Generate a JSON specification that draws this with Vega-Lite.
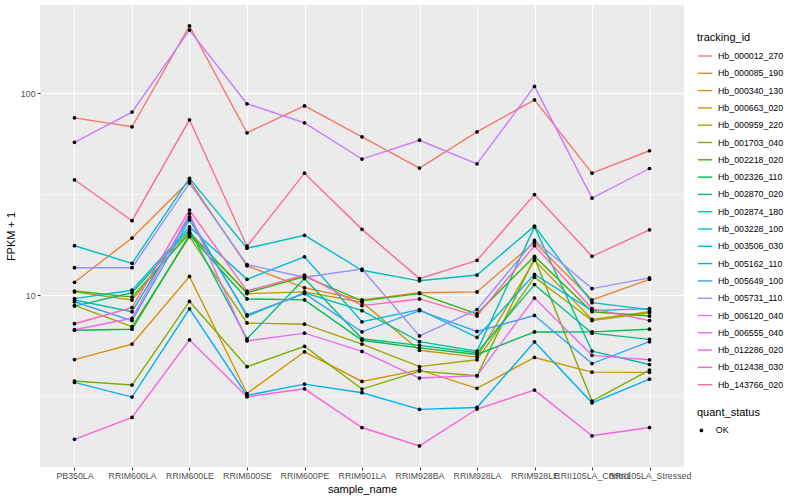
{
"$schema": "https://vega.github.io/schema/vega-lite/v6.json",
"width": 644, "height": 462,
"autosize": {"type": "none"},
"padding": {"left": 40, "top": 5, "right": 116, "bottom": 33},
"background": "white",
"config": {
  "view": {"fill": "#EBEBEB", "stroke": null},
  "font": "Liberation Sans",
  "axis": {"domain": false, "gridColor": "#FFFFFF", "tickColor": "#333333", "tickSize": 2.75, "tickWidth": 1.07,
    "labelColor": "#4D4D4D", "labelFontSize": 8.8, "labelFont": "Liberation Sans", "titleFont": "Liberation Sans",
    "titleFontSize": 11, "titleFontWeight": "normal", "titleColor": "#000000", "labelPadding": 2.2},
  "legend": {"titleFont": "Liberation Sans", "labelFont": "Liberation Sans", "titleFontSize": 11, "titleFontWeight": "normal",
    "labelFontSize": 8.8, "labelColor": "#000000", "titleColor": "#000000", "padding": 0}
},
"data": {"values": [
{"sample_name":"PB350LA","tracking_id":"Hb_000012_270","fpkm":75.5,"quant_status":"OK"},
{"sample_name":"RRIM600LA","tracking_id":"Hb_000012_270","fpkm":68.2,"quant_status":"OK"},
{"sample_name":"RRIM600LE","tracking_id":"Hb_000012_270","fpkm":215,"quant_status":"OK"},
{"sample_name":"RRIM600SE","tracking_id":"Hb_000012_270","fpkm":63.7,"quant_status":"OK"},
{"sample_name":"RRIM600PE","tracking_id":"Hb_000012_270","fpkm":86.5,"quant_status":"OK"},
{"sample_name":"RRIM901LA","tracking_id":"Hb_000012_270","fpkm":60.8,"quant_status":"OK"},
{"sample_name":"RRIM928BA","tracking_id":"Hb_000012_270","fpkm":42.6,"quant_status":"OK"},
{"sample_name":"RRIM928LA","tracking_id":"Hb_000012_270","fpkm":64.4,"quant_status":"OK"},
{"sample_name":"RRIM928LE","tracking_id":"Hb_000012_270","fpkm":92.6,"quant_status":"OK"},
{"sample_name":"RRII105LA_Control","tracking_id":"Hb_000012_270","fpkm":40.2,"quant_status":"OK"},
{"sample_name":"RRII105LA_Stressed","tracking_id":"Hb_000012_270","fpkm":51.9,"quant_status":"OK"},
{"sample_name":"PB350LA","tracking_id":"Hb_000085_190","fpkm":11.6,"quant_status":"OK"},
{"sample_name":"RRIM600LA","tracking_id":"Hb_000085_190","fpkm":19.2,"quant_status":"OK"},
{"sample_name":"RRIM600LE","tracking_id":"Hb_000085_190","fpkm":36.9,"quant_status":"OK"},
{"sample_name":"RRIM600SE","tracking_id":"Hb_000085_190","fpkm":14.0,"quant_status":"OK"},
{"sample_name":"RRIM600PE","tracking_id":"Hb_000085_190","fpkm":10.9,"quant_status":"OK"},
{"sample_name":"RRIM901LA","tracking_id":"Hb_000085_190","fpkm":9.5,"quant_status":"OK"},
{"sample_name":"RRIM928BA","tracking_id":"Hb_000085_190","fpkm":10.3,"quant_status":"OK"},
{"sample_name":"RRIM928LA","tracking_id":"Hb_000085_190","fpkm":10.4,"quant_status":"OK"},
{"sample_name":"RRIM928LE","tracking_id":"Hb_000085_190","fpkm":18.3,"quant_status":"OK"},
{"sample_name":"RRII105LA_Control","tracking_id":"Hb_000085_190","fpkm":9.5,"quant_status":"OK"},
{"sample_name":"RRII105LA_Stressed","tracking_id":"Hb_000085_190","fpkm":12.0,"quant_status":"OK"},
{"sample_name":"PB350LA","tracking_id":"Hb_000340_130","fpkm":4.81,"quant_status":"OK"},
{"sample_name":"RRIM600LA","tracking_id":"Hb_000340_130","fpkm":5.74,"quant_status":"OK"},
{"sample_name":"RRIM600LE","tracking_id":"Hb_000340_130","fpkm":12.4,"quant_status":"OK"},
{"sample_name":"RRIM600SE","tracking_id":"Hb_000340_130","fpkm":3.27,"quant_status":"OK"},
{"sample_name":"RRIM600PE","tracking_id":"Hb_000340_130","fpkm":5.26,"quant_status":"OK"},
{"sample_name":"RRIM901LA","tracking_id":"Hb_000340_130","fpkm":3.75,"quant_status":"OK"},
{"sample_name":"RRIM928BA","tracking_id":"Hb_000340_130","fpkm":4.28,"quant_status":"OK"},
{"sample_name":"RRIM928LA","tracking_id":"Hb_000340_130","fpkm":3.47,"quant_status":"OK"},
{"sample_name":"RRIM928LE","tracking_id":"Hb_000340_130","fpkm":4.93,"quant_status":"OK"},
{"sample_name":"RRII105LA_Control","tracking_id":"Hb_000340_130","fpkm":4.17,"quant_status":"OK"},
{"sample_name":"RRII105LA_Stressed","tracking_id":"Hb_000340_130","fpkm":4.16,"quant_status":"OK"},
{"sample_name":"PB350LA","tracking_id":"Hb_000663_020","fpkm":10.4,"quant_status":"OK"},
{"sample_name":"RRIM600LA","tracking_id":"Hb_000663_020","fpkm":9.48,"quant_status":"OK"},
{"sample_name":"RRIM600LE","tracking_id":"Hb_000663_020","fpkm":20.6,"quant_status":"OK"},
{"sample_name":"RRIM600SE","tracking_id":"Hb_000663_020","fpkm":10.2,"quant_status":"OK"},
{"sample_name":"RRIM600PE","tracking_id":"Hb_000663_020","fpkm":10.4,"quant_status":"OK"},
{"sample_name":"RRIM901LA","tracking_id":"Hb_000663_020","fpkm":9.25,"quant_status":"OK"},
{"sample_name":"RRIM928BA","tracking_id":"Hb_000663_020","fpkm":5.35,"quant_status":"OK"},
{"sample_name":"RRIM928LA","tracking_id":"Hb_000663_020","fpkm":4.95,"quant_status":"OK"},
{"sample_name":"RRIM928LE","tracking_id":"Hb_000663_020","fpkm":14.9,"quant_status":"OK"},
{"sample_name":"RRII105LA_Control","tracking_id":"Hb_000663_020","fpkm":7.6,"quant_status":"OK"},
{"sample_name":"RRII105LA_Stressed","tracking_id":"Hb_000663_020","fpkm":8.3,"quant_status":"OK"},
{"sample_name":"PB350LA","tracking_id":"Hb_000959_220","fpkm":8.92,"quant_status":"OK"},
{"sample_name":"RRIM600LA","tracking_id":"Hb_000959_220","fpkm":7.0,"quant_status":"OK"},
{"sample_name":"RRIM600LE","tracking_id":"Hb_000959_220","fpkm":19.5,"quant_status":"OK"},
{"sample_name":"RRIM600SE","tracking_id":"Hb_000959_220","fpkm":7.3,"quant_status":"OK"},
{"sample_name":"RRIM600PE","tracking_id":"Hb_000959_220","fpkm":7.2,"quant_status":"OK"},
{"sample_name":"RRIM901LA","tracking_id":"Hb_000959_220","fpkm":5.74,"quant_status":"OK"},
{"sample_name":"RRIM928BA","tracking_id":"Hb_000959_220","fpkm":4.44,"quant_status":"OK"},
{"sample_name":"RRIM928LA","tracking_id":"Hb_000959_220","fpkm":4.8,"quant_status":"OK"},
{"sample_name":"RRIM928LE","tracking_id":"Hb_000959_220","fpkm":12.3,"quant_status":"OK"},
{"sample_name":"RRII105LA_Control","tracking_id":"Hb_000959_220","fpkm":7.5,"quant_status":"OK"},
{"sample_name":"RRII105LA_Stressed","tracking_id":"Hb_000959_220","fpkm":8.2,"quant_status":"OK"},
{"sample_name":"PB350LA","tracking_id":"Hb_001703_040","fpkm":3.77,"quant_status":"OK"},
{"sample_name":"RRIM600LA","tracking_id":"Hb_001703_040","fpkm":3.6,"quant_status":"OK"},
{"sample_name":"RRIM600LE","tracking_id":"Hb_001703_040","fpkm":9.33,"quant_status":"OK"},
{"sample_name":"RRIM600SE","tracking_id":"Hb_001703_040","fpkm":4.44,"quant_status":"OK"},
{"sample_name":"RRIM600PE","tracking_id":"Hb_001703_040","fpkm":5.6,"quant_status":"OK"},
{"sample_name":"RRIM901LA","tracking_id":"Hb_001703_040","fpkm":3.44,"quant_status":"OK"},
{"sample_name":"RRIM928BA","tracking_id":"Hb_001703_040","fpkm":4.22,"quant_status":"OK"},
{"sample_name":"RRIM928LA","tracking_id":"Hb_001703_040","fpkm":4.0,"quant_status":"OK"},
{"sample_name":"RRIM928LE","tracking_id":"Hb_001703_040","fpkm":15.3,"quant_status":"OK"},
{"sample_name":"RRII105LA_Control","tracking_id":"Hb_001703_040","fpkm":3.0,"quant_status":"OK"},
{"sample_name":"RRII105LA_Stressed","tracking_id":"Hb_001703_040","fpkm":4.27,"quant_status":"OK"},
{"sample_name":"PB350LA","tracking_id":"Hb_002218_020","fpkm":10.5,"quant_status":"OK"},
{"sample_name":"RRIM600LA","tracking_id":"Hb_002218_020","fpkm":9.8,"quant_status":"OK"},
{"sample_name":"RRIM600LE","tracking_id":"Hb_002218_020","fpkm":20.3,"quant_status":"OK"},
{"sample_name":"RRIM600SE","tracking_id":"Hb_002218_020","fpkm":10.3,"quant_status":"OK"},
{"sample_name":"RRIM600PE","tracking_id":"Hb_002218_020","fpkm":12.4,"quant_status":"OK"},
{"sample_name":"RRIM901LA","tracking_id":"Hb_002218_020","fpkm":9.4,"quant_status":"OK"},
{"sample_name":"RRIM928BA","tracking_id":"Hb_002218_020","fpkm":10.2,"quant_status":"OK"},
{"sample_name":"RRIM928LA","tracking_id":"Hb_002218_020","fpkm":8.1,"quant_status":"OK"},
{"sample_name":"RRIM928LE","tracking_id":"Hb_002218_020","fpkm":15.6,"quant_status":"OK"},
{"sample_name":"RRII105LA_Control","tracking_id":"Hb_002218_020","fpkm":8.3,"quant_status":"OK"},
{"sample_name":"RRII105LA_Stressed","tracking_id":"Hb_002218_020","fpkm":7.9,"quant_status":"OK"},
{"sample_name":"PB350LA","tracking_id":"Hb_002326_110","fpkm":6.72,"quant_status":"OK"},
{"sample_name":"RRIM600LA","tracking_id":"Hb_002326_110","fpkm":6.8,"quant_status":"OK"},
{"sample_name":"RRIM600LE","tracking_id":"Hb_002326_110","fpkm":19.9,"quant_status":"OK"},
{"sample_name":"RRIM600SE","tracking_id":"Hb_002326_110","fpkm":9.6,"quant_status":"OK"},
{"sample_name":"RRIM600PE","tracking_id":"Hb_002326_110","fpkm":9.5,"quant_status":"OK"},
{"sample_name":"RRIM901LA","tracking_id":"Hb_002326_110","fpkm":6.0,"quant_status":"OK"},
{"sample_name":"RRIM928BA","tracking_id":"Hb_002326_110","fpkm":5.5,"quant_status":"OK"},
{"sample_name":"RRIM928LA","tracking_id":"Hb_002326_110","fpkm":5.1,"quant_status":"OK"},
{"sample_name":"RRIM928LE","tracking_id":"Hb_002326_110","fpkm":6.59,"quant_status":"OK"},
{"sample_name":"RRII105LA_Control","tracking_id":"Hb_002326_110","fpkm":6.6,"quant_status":"OK"},
{"sample_name":"RRII105LA_Stressed","tracking_id":"Hb_002326_110","fpkm":6.8,"quant_status":"OK"},
{"sample_name":"PB350LA","tracking_id":"Hb_002870_020","fpkm":8.85,"quant_status":"OK"},
{"sample_name":"RRIM600LA","tracking_id":"Hb_002870_020","fpkm":10.3,"quant_status":"OK"},
{"sample_name":"RRIM600LE","tracking_id":"Hb_002870_020","fpkm":21.1,"quant_status":"OK"},
{"sample_name":"RRIM600SE","tracking_id":"Hb_002870_020","fpkm":6.1,"quant_status":"OK"},
{"sample_name":"RRIM600PE","tracking_id":"Hb_002870_020","fpkm":12.1,"quant_status":"OK"},
{"sample_name":"RRIM901LA","tracking_id":"Hb_002870_020","fpkm":6.1,"quant_status":"OK"},
{"sample_name":"RRIM928BA","tracking_id":"Hb_002870_020","fpkm":5.66,"quant_status":"OK"},
{"sample_name":"RRIM928LA","tracking_id":"Hb_002870_020","fpkm":5.2,"quant_status":"OK"},
{"sample_name":"RRIM928LE","tracking_id":"Hb_002870_020","fpkm":11.3,"quant_status":"OK"},
{"sample_name":"RRII105LA_Control","tracking_id":"Hb_002870_020","fpkm":6.5,"quant_status":"OK"},
{"sample_name":"RRII105LA_Stressed","tracking_id":"Hb_002870_020","fpkm":6.06,"quant_status":"OK"},
{"sample_name":"PB350LA","tracking_id":"Hb_002874_180","fpkm":9.48,"quant_status":"OK"},
{"sample_name":"RRIM600LA","tracking_id":"Hb_002874_180","fpkm":8.3,"quant_status":"OK"},
{"sample_name":"RRIM600LE","tracking_id":"Hb_002874_180","fpkm":24.4,"quant_status":"OK"},
{"sample_name":"RRIM600SE","tracking_id":"Hb_002874_180","fpkm":7.9,"quant_status":"OK"},
{"sample_name":"RRIM600PE","tracking_id":"Hb_002874_180","fpkm":10.3,"quant_status":"OK"},
{"sample_name":"RRIM901LA","tracking_id":"Hb_002874_180","fpkm":8.4,"quant_status":"OK"},
{"sample_name":"RRIM928BA","tracking_id":"Hb_002874_180","fpkm":5.9,"quant_status":"OK"},
{"sample_name":"RRIM928LA","tracking_id":"Hb_002874_180","fpkm":5.3,"quant_status":"OK"},
{"sample_name":"RRIM928LE","tracking_id":"Hb_002874_180","fpkm":21.8,"quant_status":"OK"},
{"sample_name":"RRII105LA_Control","tracking_id":"Hb_002874_180","fpkm":5.3,"quant_status":"OK"},
{"sample_name":"RRII105LA_Stressed","tracking_id":"Hb_002874_180","fpkm":4.55,"quant_status":"OK"},
{"sample_name":"PB350LA","tracking_id":"Hb_003228_100","fpkm":17.6,"quant_status":"OK"},
{"sample_name":"RRIM600LA","tracking_id":"Hb_003228_100","fpkm":14.4,"quant_status":"OK"},
{"sample_name":"RRIM600LE","tracking_id":"Hb_003228_100","fpkm":37.9,"quant_status":"OK"},
{"sample_name":"RRIM600SE","tracking_id":"Hb_003228_100","fpkm":17.1,"quant_status":"OK"},
{"sample_name":"RRIM600PE","tracking_id":"Hb_003228_100","fpkm":19.8,"quant_status":"OK"},
{"sample_name":"RRIM901LA","tracking_id":"Hb_003228_100","fpkm":13.3,"quant_status":"OK"},
{"sample_name":"RRIM928BA","tracking_id":"Hb_003228_100","fpkm":11.8,"quant_status":"OK"},
{"sample_name":"RRIM928LA","tracking_id":"Hb_003228_100","fpkm":12.6,"quant_status":"OK"},
{"sample_name":"RRIM928LE","tracking_id":"Hb_003228_100","fpkm":22.0,"quant_status":"OK"},
{"sample_name":"RRII105LA_Control","tracking_id":"Hb_003228_100","fpkm":9.2,"quant_status":"OK"},
{"sample_name":"RRII105LA_Stressed","tracking_id":"Hb_003228_100","fpkm":8.5,"quant_status":"OK"},
{"sample_name":"PB350LA","tracking_id":"Hb_003506_030","fpkm":9.64,"quant_status":"OK"},
{"sample_name":"RRIM600LA","tracking_id":"Hb_003506_030","fpkm":10.6,"quant_status":"OK"},
{"sample_name":"RRIM600LE","tracking_id":"Hb_003506_030","fpkm":21.8,"quant_status":"OK"},
{"sample_name":"RRIM600SE","tracking_id":"Hb_003506_030","fpkm":12.0,"quant_status":"OK"},
{"sample_name":"RRIM600PE","tracking_id":"Hb_003506_030","fpkm":15.5,"quant_status":"OK"},
{"sample_name":"RRIM901LA","tracking_id":"Hb_003506_030","fpkm":7.4,"quant_status":"OK"},
{"sample_name":"RRIM928BA","tracking_id":"Hb_003506_030","fpkm":8.5,"quant_status":"OK"},
{"sample_name":"RRIM928LA","tracking_id":"Hb_003506_030","fpkm":6.2,"quant_status":"OK"},
{"sample_name":"RRIM928LE","tracking_id":"Hb_003506_030","fpkm":12.7,"quant_status":"OK"},
{"sample_name":"RRII105LA_Control","tracking_id":"Hb_003506_030","fpkm":8.4,"quant_status":"OK"},
{"sample_name":"RRII105LA_Stressed","tracking_id":"Hb_003506_030","fpkm":8.6,"quant_status":"OK"},
{"sample_name":"PB350LA","tracking_id":"Hb_005162_110","fpkm":3.71,"quant_status":"OK"},
{"sample_name":"RRIM600LA","tracking_id":"Hb_005162_110","fpkm":3.14,"quant_status":"OK"},
{"sample_name":"RRIM600LE","tracking_id":"Hb_005162_110","fpkm":8.58,"quant_status":"OK"},
{"sample_name":"RRIM600SE","tracking_id":"Hb_005162_110","fpkm":3.2,"quant_status":"OK"},
{"sample_name":"RRIM600PE","tracking_id":"Hb_005162_110","fpkm":3.64,"quant_status":"OK"},
{"sample_name":"RRIM901LA","tracking_id":"Hb_005162_110","fpkm":3.3,"quant_status":"OK"},
{"sample_name":"RRIM928BA","tracking_id":"Hb_005162_110","fpkm":2.73,"quant_status":"OK"},
{"sample_name":"RRIM928LA","tracking_id":"Hb_005162_110","fpkm":2.79,"quant_status":"OK"},
{"sample_name":"RRIM928LE","tracking_id":"Hb_005162_110","fpkm":5.89,"quant_status":"OK"},
{"sample_name":"RRII105LA_Control","tracking_id":"Hb_005162_110","fpkm":2.94,"quant_status":"OK"},
{"sample_name":"RRII105LA_Stressed","tracking_id":"Hb_005162_110","fpkm":3.85,"quant_status":"OK"},
{"sample_name":"PB350LA","tracking_id":"Hb_005649_100","fpkm":9.3,"quant_status":"OK"},
{"sample_name":"RRIM600LA","tracking_id":"Hb_005649_100","fpkm":7.5,"quant_status":"OK"},
{"sample_name":"RRIM600LE","tracking_id":"Hb_005649_100","fpkm":23.6,"quant_status":"OK"},
{"sample_name":"RRIM600SE","tracking_id":"Hb_005649_100","fpkm":8.0,"quant_status":"OK"},
{"sample_name":"RRIM600PE","tracking_id":"Hb_005649_100","fpkm":10.2,"quant_status":"OK"},
{"sample_name":"RRIM901LA","tracking_id":"Hb_005649_100","fpkm":6.6,"quant_status":"OK"},
{"sample_name":"RRIM928BA","tracking_id":"Hb_005649_100","fpkm":8.4,"quant_status":"OK"},
{"sample_name":"RRIM928LA","tracking_id":"Hb_005649_100","fpkm":6.63,"quant_status":"OK"},
{"sample_name":"RRIM928LE","tracking_id":"Hb_005649_100","fpkm":7.95,"quant_status":"OK"},
{"sample_name":"RRII105LA_Control","tracking_id":"Hb_005649_100","fpkm":4.6,"quant_status":"OK"},
{"sample_name":"RRII105LA_Stressed","tracking_id":"Hb_005649_100","fpkm":5.9,"quant_status":"OK"},
{"sample_name":"PB350LA","tracking_id":"Hb_005731_110","fpkm":13.7,"quant_status":"OK"},
{"sample_name":"RRIM600LA","tracking_id":"Hb_005731_110","fpkm":13.7,"quant_status":"OK"},
{"sample_name":"RRIM600LE","tracking_id":"Hb_005731_110","fpkm":35.9,"quant_status":"OK"},
{"sample_name":"RRIM600SE","tracking_id":"Hb_005731_110","fpkm":14.2,"quant_status":"OK"},
{"sample_name":"RRIM600PE","tracking_id":"Hb_005731_110","fpkm":12.3,"quant_status":"OK"},
{"sample_name":"RRIM901LA","tracking_id":"Hb_005731_110","fpkm":13.5,"quant_status":"OK"},
{"sample_name":"RRIM928BA","tracking_id":"Hb_005731_110","fpkm":6.3,"quant_status":"OK"},
{"sample_name":"RRIM928LA","tracking_id":"Hb_005731_110","fpkm":8.5,"quant_status":"OK"},
{"sample_name":"RRIM928LE","tracking_id":"Hb_005731_110","fpkm":18.7,"quant_status":"OK"},
{"sample_name":"RRII105LA_Control","tracking_id":"Hb_005731_110","fpkm":10.8,"quant_status":"OK"},
{"sample_name":"RRII105LA_Stressed","tracking_id":"Hb_005731_110","fpkm":12.2,"quant_status":"OK"},
{"sample_name":"PB350LA","tracking_id":"Hb_006120_040","fpkm":57.1,"quant_status":"OK"},
{"sample_name":"RRIM600LA","tracking_id":"Hb_006120_040","fpkm":80.6,"quant_status":"OK"},
{"sample_name":"RRIM600LE","tracking_id":"Hb_006120_040","fpkm":205,"quant_status":"OK"},
{"sample_name":"RRIM600SE","tracking_id":"Hb_006120_040","fpkm":88.6,"quant_status":"OK"},
{"sample_name":"RRIM600PE","tracking_id":"Hb_006120_040","fpkm":71.3,"quant_status":"OK"},
{"sample_name":"RRIM901LA","tracking_id":"Hb_006120_040","fpkm":47.2,"quant_status":"OK"},
{"sample_name":"RRIM928BA","tracking_id":"Hb_006120_040","fpkm":58.5,"quant_status":"OK"},
{"sample_name":"RRIM928LA","tracking_id":"Hb_006120_040","fpkm":44.7,"quant_status":"OK"},
{"sample_name":"RRIM928LE","tracking_id":"Hb_006120_040","fpkm":108,"quant_status":"OK"},
{"sample_name":"RRII105LA_Control","tracking_id":"Hb_006120_040","fpkm":30.3,"quant_status":"OK"},
{"sample_name":"RRII105LA_Stressed","tracking_id":"Hb_006120_040","fpkm":42.4,"quant_status":"OK"},
{"sample_name":"PB350LA","tracking_id":"Hb_006555_040","fpkm":6.76,"quant_status":"OK"},
{"sample_name":"RRIM600LA","tracking_id":"Hb_006555_040","fpkm":7.7,"quant_status":"OK"},
{"sample_name":"RRIM600LE","tracking_id":"Hb_006555_040","fpkm":25.3,"quant_status":"OK"},
{"sample_name":"RRIM600SE","tracking_id":"Hb_006555_040","fpkm":5.95,"quant_status":"OK"},
{"sample_name":"RRIM600PE","tracking_id":"Hb_006555_040","fpkm":6.5,"quant_status":"OK"},
{"sample_name":"RRIM901LA","tracking_id":"Hb_006555_040","fpkm":5.28,"quant_status":"OK"},
{"sample_name":"RRIM928BA","tracking_id":"Hb_006555_040","fpkm":3.9,"quant_status":"OK"},
{"sample_name":"RRIM928LA","tracking_id":"Hb_006555_040","fpkm":4.0,"quant_status":"OK"},
{"sample_name":"RRIM928LE","tracking_id":"Hb_006555_040","fpkm":9.7,"quant_status":"OK"},
{"sample_name":"RRII105LA_Control","tracking_id":"Hb_006555_040","fpkm":5.05,"quant_status":"OK"},
{"sample_name":"RRII105LA_Stressed","tracking_id":"Hb_006555_040","fpkm":4.8,"quant_status":"OK"},
{"sample_name":"PB350LA","tracking_id":"Hb_012286_020","fpkm":1.94,"quant_status":"OK"},
{"sample_name":"RRIM600LA","tracking_id":"Hb_012286_020","fpkm":2.49,"quant_status":"OK"},
{"sample_name":"RRIM600LE","tracking_id":"Hb_012286_020","fpkm":6.03,"quant_status":"OK"},
{"sample_name":"RRIM600SE","tracking_id":"Hb_012286_020","fpkm":3.15,"quant_status":"OK"},
{"sample_name":"RRIM600PE","tracking_id":"Hb_012286_020","fpkm":3.45,"quant_status":"OK"},
{"sample_name":"RRIM901LA","tracking_id":"Hb_012286_020","fpkm":2.22,"quant_status":"OK"},
{"sample_name":"RRIM928BA","tracking_id":"Hb_012286_020","fpkm":1.8,"quant_status":"OK"},
{"sample_name":"RRIM928LA","tracking_id":"Hb_012286_020","fpkm":2.74,"quant_status":"OK"},
{"sample_name":"RRIM928LE","tracking_id":"Hb_012286_020","fpkm":3.4,"quant_status":"OK"},
{"sample_name":"RRII105LA_Control","tracking_id":"Hb_012286_020","fpkm":2.02,"quant_status":"OK"},
{"sample_name":"RRII105LA_Stressed","tracking_id":"Hb_012286_020","fpkm":2.22,"quant_status":"OK"},
{"sample_name":"PB350LA","tracking_id":"Hb_012438_030","fpkm":7.24,"quant_status":"OK"},
{"sample_name":"RRIM600LA","tracking_id":"Hb_012438_030","fpkm":8.7,"quant_status":"OK"},
{"sample_name":"RRIM600LE","tracking_id":"Hb_012438_030","fpkm":26.4,"quant_status":"OK"},
{"sample_name":"RRIM600SE","tracking_id":"Hb_012438_030","fpkm":10.5,"quant_status":"OK"},
{"sample_name":"RRIM600PE","tracking_id":"Hb_012438_030","fpkm":12.6,"quant_status":"OK"},
{"sample_name":"RRIM901LA","tracking_id":"Hb_012438_030","fpkm":8.9,"quant_status":"OK"},
{"sample_name":"RRIM928BA","tracking_id":"Hb_012438_030","fpkm":9.6,"quant_status":"OK"},
{"sample_name":"RRIM928LA","tracking_id":"Hb_012438_030","fpkm":7.9,"quant_status":"OK"},
{"sample_name":"RRIM928LE","tracking_id":"Hb_012438_030","fpkm":17.6,"quant_status":"OK"},
{"sample_name":"RRII105LA_Control","tracking_id":"Hb_012438_030","fpkm":8.6,"quant_status":"OK"},
{"sample_name":"RRII105LA_Stressed","tracking_id":"Hb_012438_030","fpkm":7.5,"quant_status":"OK"},
{"sample_name":"PB350LA","tracking_id":"Hb_143766_020","fpkm":37.3,"quant_status":"OK"},
{"sample_name":"RRIM600LA","tracking_id":"Hb_143766_020","fpkm":23.4,"quant_status":"OK"},
{"sample_name":"RRIM600LE","tracking_id":"Hb_143766_020","fpkm":73.8,"quant_status":"OK"},
{"sample_name":"RRIM600SE","tracking_id":"Hb_143766_020","fpkm":17.5,"quant_status":"OK"},
{"sample_name":"RRIM600PE","tracking_id":"Hb_143766_020","fpkm":40.2,"quant_status":"OK"},
{"sample_name":"RRIM901LA","tracking_id":"Hb_143766_020","fpkm":21.2,"quant_status":"OK"},
{"sample_name":"RRIM928BA","tracking_id":"Hb_143766_020","fpkm":12.1,"quant_status":"OK"},
{"sample_name":"RRIM928LA","tracking_id":"Hb_143766_020","fpkm":14.9,"quant_status":"OK"},
{"sample_name":"RRIM928LE","tracking_id":"Hb_143766_020","fpkm":31.5,"quant_status":"OK"},
{"sample_name":"RRII105LA_Control","tracking_id":"Hb_143766_020","fpkm":15.6,"quant_status":"OK"},
{"sample_name":"RRII105LA_Stressed","tracking_id":"Hb_143766_020","fpkm":21.1,"quant_status":"OK"}
]},
"encoding": {
  "x": {"field": "sample_name", "type": "nominal",
    "sort": ["PB350LA","RRIM600LA","RRIM600LE","RRIM600SE","RRIM600PE","RRIM901LA","RRIM928BA","RRIM928LA","RRIM928LE","RRII105LA_Control","RRII105LA_Stressed"],
    "scale": {"type": "point", "padding": 0.6},
    "axis": {"title": "sample_name", "labelAngle": 0, "labelOverlap": false, "labelBound": false, "grid": true, "gridWidth": 1.07, "titlePadding": 3}},
  "y": {"field": "fpkm", "type": "quantitative",
    "scale": {"type": "log", "domain": [1.416, 272.9], "nice": false, "zero": false},
    "axis": {"title": "FPKM + 1", "values": [3.1623, 10, 31.623, 100], "grid": true,
      "labelExpr": "datum.value == 10 ? '10' : (datum.value == 100 ? '100' : '')",
      "gridWidth": {"condition": {"test": "datum.value < 5 || (datum.value > 20 && datum.value < 50)", "value": 0.53}, "value": 1.07},
      "tickOpacity": {"condition": {"test": "datum.value < 5 || (datum.value > 20 && datum.value < 50)", "value": 0}, "value": 1},
      "titlePadding": 4}}
},
"layer": [
  {"mark": {"type": "line", "strokeWidth": 1.4},
   "encoding": {
     "color": {"field": "tracking_id", "type": "nominal",
       "scale": {"domain": ["Hb_000012_270","Hb_000085_190","Hb_000340_130","Hb_000663_020","Hb_000959_220","Hb_001703_040","Hb_002218_020","Hb_002326_110","Hb_002870_020","Hb_002874_180","Hb_003228_100","Hb_003506_030","Hb_005162_110","Hb_005649_100","Hb_005731_110","Hb_006120_040","Hb_006555_040","Hb_012286_020","Hb_012438_030","Hb_143766_020"],
         "range": ["#F8766D","#EA8331","#D89000","#C09B00","#A3A500","#7CAE00","#39B600","#00BB4E","#00BF7D","#00C1A3","#00BFC4","#00BAE0","#00B0F6","#35A2FF","#9590FF","#C77CFF","#E76BF3","#FA62DB","#FF62BC","#FF6C91"]},
       "legend": {"title": "tracking_id", "orient": "none", "legendX": 657, "legendY": 27, "direction": "vertical",
         "symbolType": "stroke", "symbolSize": 207, "symbolStrokeWidth": 1.4, "rowPadding": 4.3, "labelOffset": 5, "titlePadding": 5}},
     "order": {"value": null}
   }},
  {"mark": {"type": "point", "filled": true, "color": "black", "size": 14, "opacity": 1},
   "encoding": {
     "shape": {"field": "quant_status", "type": "nominal",
       "scale": {"domain": ["OK"], "range": ["circle"]},
       "legend": {"title": "quant_status", "orient": "none", "legendX": 657, "legendY": 402, "direction": "vertical",
         "symbolFillColor": "black", "symbolStrokeColor": "black", "symbolSize": 14, "labelOffset": 10, "titlePadding": 8}}
   }}
]
}
